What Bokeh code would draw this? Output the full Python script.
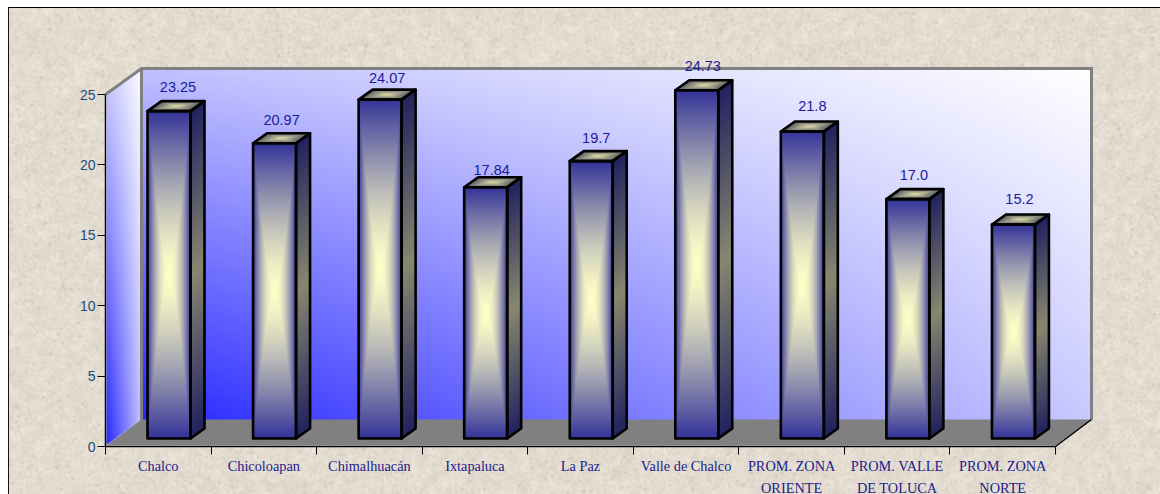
import base64, struct, zlib
import numpy as np
from bokeh.core.properties import value
from bokeh.embed import file_html
from bokeh.models import FixedTicker, LinearAxis
from bokeh.plotting import figure
from bokeh.resources import INLINE

categories = ["Chalco", "Chicoloapan", "Chimalhuacán", "Ixtapaluca", "La Paz",
              "Valle de Chalco", "PROM. ZONA\nORIENTE", "PROM. VALLE\nDE TOLUCA", "PROM. ZONA\nNORTE"]
values = [23.25, 20.97, 24.07, 17.84, 19.7, 24.73, 21.8, 17.0, 15.2]
value_labels = ["23.25", "20.97", "24.07", "17.84", "19.7", "24.73", "21.8", "17.0", "15.2"]
y_ticks = [0, 5, 10, 15, 20, 25]

# small manual nudges of the value labels, in pixels
label_dx = [2, 0, 0, -1, -2, -1, 3, -1, -1]
label_lift = [14, 13, 12, 7, 13, 14, 16, 14, 15]

W, H = 1160, 494
FL, FT, FW, FH = 105, 94, 950, 352     # frame inside the figure
DX, DY = 36, 26                        # depth of the box, px
BAR_W, BAR_DX, BAR_DY = 43, 14, 10     # bar width and depth, px
BAR_OX, BAR_OY = 42, 8                 # bar offset inside its category, px
xpx = FW / 9.0
ypx = FH / 25.0


def X(px):
    return px / xpx


def Y(px):
    return px / ypx


def png_uri(arr):
    h, w, _ = arr.shape
    raw = b"".join(b"\x00" + arr[r].tobytes() for r in range(h))

    def chunk(t, d):
        return struct.pack(">I", len(d)) + t + d + struct.pack(">I", zlib.crc32(t + d) & 0xffffffff)
    data = b"\x89PNG\r\n\x1a\n" + chunk(b"IHDR", struct.pack(">IIBBBBB", w, h, 8, 2, 0, 0, 0)) \
        + chunk(b"IDAT", zlib.compress(raw, 9)) + chunk(b"IEND", b"")
    return "data:image/png;base64," + base64.b64encode(data).decode()


def blur(a, r):
    for axis in (0, 1):
        c = np.cumsum(np.concatenate([np.take(a, [-1], axis) * 0 + 0, a], axis), axis)
        n = a.shape[axis]
        hi = np.clip(np.arange(n) + r + 1, 0, n)
        lo = np.clip(np.arange(n) - r, 0, n)
        a = (np.take(c, hi, axis) - np.take(c, lo, axis)) / np.expand_dims(hi - lo, 1 - axis)
    return a


# stone paper: deterministic hash noise, plus the page frame's black edges
yy, xx = np.mgrid[0:H, 0:W]
def hash_noise(a, b):
    v = np.sin(xx * a + yy * b) * 43758.5453
    return v - np.floor(v)
n1 = blur(hash_noise(12.9898, 78.233), 1) - 0.5
n2 = blur(hash_noise(39.346, 11.135), 4) - 0.5
n3 = hash_noise(73.156, 52.235)
shade = 228 + n1 * 30 + n2 * 70 - blur((n3 > 0.994) * 1.0, 1) * 70
tex = np.stack([shade, shade - 7, shade - 19], 2).clip(0, 255).astype(np.uint8)
tex = (tex // 2) * 2
tex[7:8, 8:, :] = 0
tex[7:, 8:9, :] = 20
tex[:7, :, :] = 255
tex[:, :8, :] = 255
bg = png_uri(tex)


def lerp(c0, c1, t):
    c0, c1 = np.array(c0, float), np.array(c1, float)
    return c0 + (c1 - c0) * t[..., None]


def rgba(rgb, alpha=None):
    h, w = rgb.shape[:2]
    out = np.zeros((h, w, 4), dtype=np.uint8)
    out[..., :3] = rgb.clip(0, 255)
    out[..., 3] = 255 if alpha is None else alpha
    return out.view(np.uint32).reshape(h, w)


def wall_t(u, v):
    # u left to right, v bottom to top (both 0..1)
    c00, c10, c01, c11 = 0.03, 0.76, 0.72, 1.0
    return c00 * (1 - u) * (1 - v) + c10 * u * (1 - v) + c01 * (1 - u) * v + c11 * u * v


BLUE, WHITE = (32, 32, 255), (255, 255, 255)
p = figure(width=W, height=H, x_range=(0, 9), y_range=(0, 25), output_backend="svg",
           toolbar_location=None, x_axis_type=None, y_axis_type=None,
           min_border_left=FL, min_border_right=W - FL - FW, min_border_top=FT,
           min_border_bottom=H - FT - FH, frame_width=FW, frame_height=FH,
           outline_line_color=None, background_fill_alpha=0, border_fill_alpha=0)
p.grid.visible = False
p.styles = {"background-image": f"url({bg})", "background-repeat": "no-repeat"}

yax = LinearAxis(ticker=FixedTicker(ticks=y_ticks), axis_line_color="black", axis_line_width=1.5,
                 major_tick_line_color="black", major_tick_out=8, major_tick_in=0, minor_tick_out=0,
                 minor_tick_in=0, major_label_text_color="#1b4a80", major_label_text_font="Liberation Sans",
                 major_label_text_font_size="14px", major_label_standoff=2)
p.add_layout(yax, "left")
xax = LinearAxis(ticker=FixedTicker(ticks=[i + 0.5 for i in range(9)], minor_ticks=list(range(10))),
                 major_label_overrides={i + 0.5: c for i, c in enumerate(categories)},
                 axis_line_color="black", axis_line_width=1.5, major_tick_out=0, major_tick_in=0,
                 minor_tick_line_color="black", minor_tick_out=8, minor_tick_in=0,
                 major_label_text_color="#1c1c8c", major_label_text_font="Liberation Serif",
                 major_label_text_font_size="14.3px", major_label_text_line_height=1.39,
                 major_label_standoff=3)
p.add_layout(xax, "below")


def put_image(img, px_x, px_y_bottom, w, h):
    """place an image, px offsets measured from the data origin in pixels"""
    p.image_rgba(image=[img], x=[X(px_x)], y=[Y(px_y_bottom)], dw=[X(w)], dh=[Y(h)], level="overlay")


# back wall
vv, uu = np.mgrid[0:FH + 0, 0:FW + 0]
put_image(rgba(lerp(BLUE, WHITE, wall_t(uu / FW, vv / FH))), DX, DY, FW, FH)

# left wall: parallelogram masked on the image
h2 = FH + DY
vv, uu = np.mgrid[0:h2, 0:DX]
u = (uu + 0.5) / DX
base = DY * u
mask = (vv >= base) & (vv <= base + FH)
put_image(rgba(lerp(BLUE, WHITE, wall_t(u, (vv - base).clip(0, FH) / FH)), mask * 255), 1, 1, DX, h2)

# floor
p.patch([X(1), X(FW), X(FW + DX), X(DX)], [Y(1), Y(1), Y(DY + 1), Y(DY + 1)], fill_color="#808080",
        line_color=None, level="overlay")
# box edges
p.line([0, X(DX), X(FW + DX), X(FW + DX)], [25, Y(FH + DY), Y(FH + DY), Y(DY + 1)], line_color="#808080",
       line_width=3, level="overlay", line_join="miter")
p.line([X(DX), X(DX)], [Y(FH + DY), Y(DY)], line_color="#808080", line_width=3, level="overlay")
p.line([9, X(FW + DX)], [0, Y(DY + 1)], line_color="black", line_width=1.5, level="overlay")

# bars
NAVY, CREAM = (51, 51, 153), (255, 255, 200)
for i, v in enumerate(values):
    x0 = i * xpx + BAR_OX
    x1 = x0 + BAR_W
    y0 = BAR_OY
    bh = v * ypx
    y1 = y0 + bh
    ih = int(round(bh))

    # front
    vv, uu = np.mgrid[0:ih, 0:BAR_W]
    tx = np.abs((uu + 0.5) / BAR_W * 2 - 1)
    ty = np.abs((vv + 0.5) / ih * 2 - 1)
    put_image(rgba(lerp(CREAM, NAVY, np.maximum(tx ** 2.0, ty ** 1.4))), x0, y0, BAR_W, bh)

    # side
    hs = ih + BAR_DY
    vv, uu = np.mgrid[0:hs, 0:BAR_DX]
    sl = (uu + 0.5) / BAR_DX * BAR_DY
    m = (vv >= sl) & (vv <= sl + ih)
    s = np.abs((vv - sl).clip(0, ih) / ih * 2 - 1)
    put_image(rgba(lerp((136, 136, 112), (34, 34, 96), s), m * 255), x1, y0, BAR_DX, bh + BAR_DY)

    # top
    wt = BAR_W + BAR_DX
    vv, uu = np.mgrid[0:BAR_DY, 0:wt]
    fv = (vv + 0.5) / BAR_DY
    fu = ((uu + 0.5) - fv * BAR_DX) / BAR_W
    m = (fu >= 0) & (fu <= 1)
    s = np.maximum(np.abs(fu.clip(0, 1) * 2 - 1), np.abs(fv * 2 - 1))
    put_image(rgba(lerp((224, 224, 170), (88, 88, 100), s), m * 255), x0, y1, wt, BAR_DY)

    # outlines
    line = dict(fill_alpha=0, line_color="black", line_width=2.6, line_join="round", level="overlay")
    p.patch([X(x0), X(x1), X(x1), X(x0)], [Y(y0), Y(y0), Y(y1), Y(y1)], **line)
    p.patch([X(x1), X(x1 + BAR_DX), X(x1 + BAR_DX), X(x1)],
            [Y(y0), Y(y0 + BAR_DY), Y(y1 + BAR_DY), Y(y1)], **line)
    p.patch([X(x0), X(x1), X(x1 + BAR_DX), X(x0 + BAR_DX)],
            [Y(y1), Y(y1), Y(y1 + BAR_DY), Y(y1 + BAR_DY)], **line)

    # value label
    p.text([X(x0 + (BAR_W + BAR_DX) / 2 + label_dx[i])], [Y(y1 + BAR_DY + label_lift[i])], text=[value_labels[i]],
           text_align="center", text_baseline="middle", text_color="#1c1c96",
           text_font=value("Liberation Sans"), text_font_size="14.5px", level="overlay")

open("out.html", "w").write(file_html(p, INLINE))
